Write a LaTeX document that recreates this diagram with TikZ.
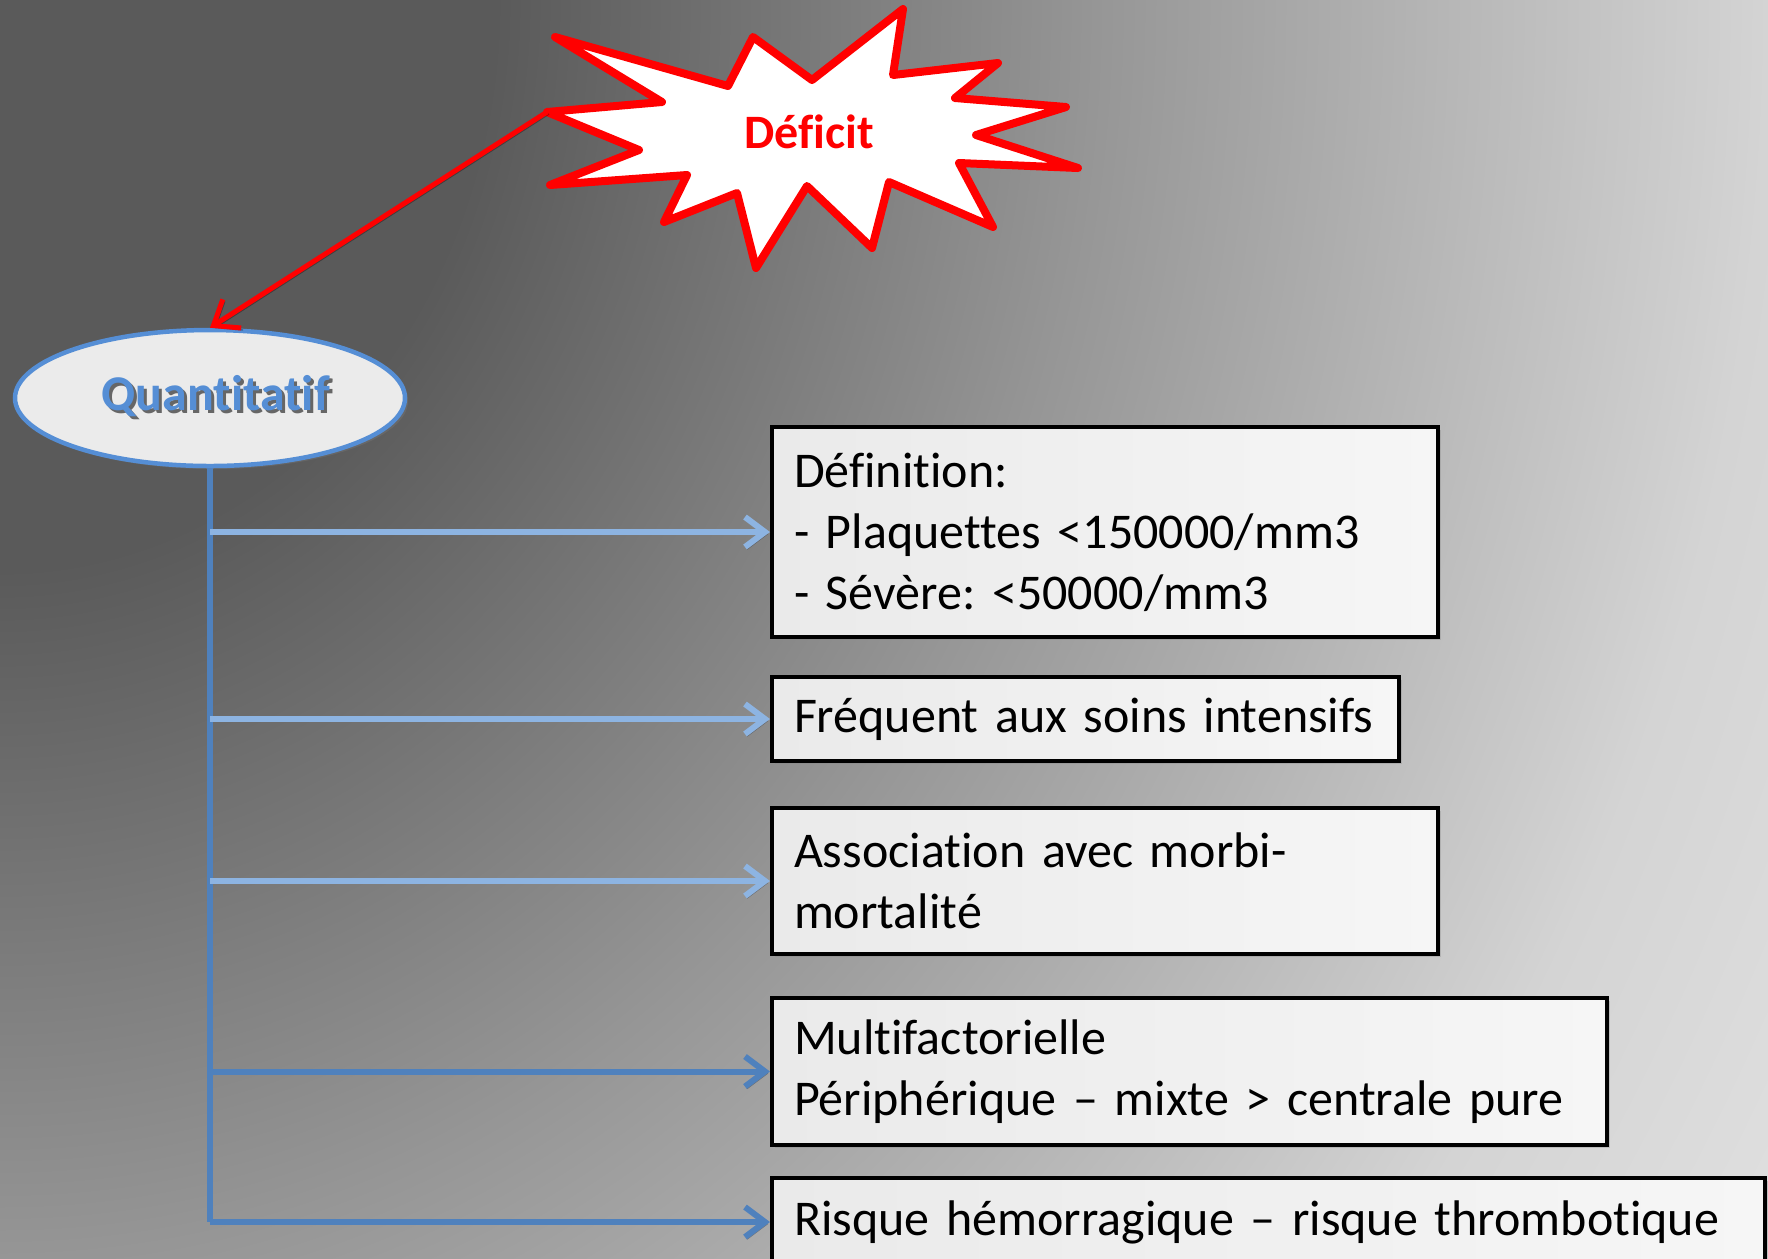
\documentclass[tikz,border=0pt]{standalone}
\usepackage{fontspec}
\setmainfont{Carlito}[Ligatures=NoCommon]
\usetikzlibrary{arrows.meta,shapes.geometric,shadows}

\definecolor{bgdark}{HTML}{5A5A5A}
\definecolor{bgmid}{HTML}{969696}
\definecolor{bglight}{HTML}{D4D4D4}
\definecolor{bgpale}{HTML}{E6E6E6}
\definecolor{trunkblue}{HTML}{4F81BD}
\definecolor{paleblue}{HTML}{8DB4E2}
\definecolor{ovalblue}{HTML}{558ED5}
\definecolor{ovalfill}{HTML}{EBEBEB}
\definecolor{boxleft}{HTML}{EAEAEA}
\definecolor{boxright}{HTML}{F6F6F6}

% dark corner at the top left, lighter towards the right
\pgfdeclareradialshading{slidebg}{\pgfpoint{0bp}{0bp}}{%
  color(0bp)=(bgdark); color(7bp)=(bgdark); color(15.5bp)=(bgmid);
  color(25bp)=(bglight); color(32bp)=(bgpale); color(50bp)=(bgpale)}

\newcommand{\boxfont}{\fontsize{14.23pt}{17.36pt}\selectfont\frenchspacing}
\newcommand{\starfont}{\fontsize{13.66pt}{16.6pt}\selectfont\bfseries}
\newcommand{\ovalfont}{\fontsize{14.23pt}{17.36pt}\selectfont\bfseries}
\newcommand{\shadowed}[2]
{
  \rlap{\kern0.03cm\raisebox{-0.03cm}{\color{black!60}#2}}{\color{#1}#2}%
}

\begin{document}
\begin{tikzpicture}[scale=1,
    infobox/.style={draw=black, line width=0.04cm, left color=boxleft, right color=boxright,
      anchor=west, align=left, font=\boxfont, inner xsep=0.22cm, inner ysep=0.05cm,
      drop shadow={shadow xshift=0.03cm, shadow yshift=-0.03cm, opacity=0.3}},
    lineshadow/.style={preaction={draw=black, opacity=0.3,
      transform canvas={xshift=0.02cm, yshift=-0.02cm}}},
    branch/.style={line width=0.06cm, lineshadow,
      -{Straight Barb[length=0.2cm, width=0.3cm]}}]
    \useasboundingbox (0,0) rectangle (17.68,-12.58);

    % background
    \begin{scope}
      \clip (0,0) rectangle (17.68,-12.58);
      \shade[shading=slidebg] (-17.68,20.3) rectangle (17.68,-20.3);
    \end{scope}

    % the burst
    \filldraw[draw=red, fill=white, line width=0.08cm, line join=round,
      drop shadow={shadow xshift=0.03cm, shadow yshift=-0.03cm, opacity=0.3}]
      (5.47,-1.12) coordinate (deftip) -- (6.62,-1.02) -- (5.55,-0.37) -- (7.28,-0.86)
      -- (7.53,-0.37) -- (8.12,-0.80) -- (9.03,-0.09) -- (8.93,-0.75) -- (9.98,-0.63)
      -- (9.55,-0.98) -- (10.66,-1.07) -- (9.76,-1.35) -- (10.78,-1.68) -- (9.59,-1.63)
      -- (9.93,-2.27) -- (8.89,-1.82) -- (8.72,-2.48) -- (8.07,-1.86) -- (7.56,-2.68)
      -- (7.37,-1.93) -- (6.64,-2.22) -- (6.87,-1.75) -- (5.50,-1.85) -- (6.39,-1.50) -- cycle;
    \node (deficit) at (8.09,-1.32) {\starfont\color{red}Déficit};

    \node[ellipse, draw=ovalblue, fill=ovalfill, line width=0.045cm,
      minimum width=3.9cm, minimum height=1.36cm,
      drop shadow={shadow xshift=0.03cm, shadow yshift=-0.03cm, opacity=0.3}]
      (quant) at (2.10,-3.98) {\ovalfont\shadowed{ovalblue}{Quantitatif}};

    \draw[red, line width=0.05cm, lineshadow, -{Straight Barb[length=0.22cm, width=0.34cm]}]
      (deftip) -- (quant.north);

    % boxes
    \node[infobox, text width=6.22cm, minimum height=2.10cm] (b1) at (7.70,-5.32)
      {Définition:\\- Plaquettes <150000/mm3\\- Sévère: <50000/mm3};
    \node[infobox, text width=5.83cm, minimum height=0.84cm] (b2) at (7.70,-7.19)
      {Fréquent aux soins intensifs};
    \node[infobox, text width=6.22cm, minimum height=1.46cm] (b3) at (7.70,-8.81)
      {Association avec morbi-\\mortalité};
    \node[infobox, text width=7.91cm, minimum height=1.47cm] (b4) at (7.70,-10.715)
      {Multifactorielle\\Périphérique – mixte > centrale pure};
    \node[infobox, text width=9.49cm, minimum height=0.88cm] (b5) at (7.70,-12.22)
      {Risque hémorragique – risque thrombotique};

    % trunk and branches
    \foreach \b in {1,...,5}
      \coordinate (j\b) at (quant.south |- b\b.west);
    \draw[trunkblue, line width=0.06cm, lineshadow] (quant.south) -- (j5);
    \draw[branch, paleblue] (j1) -- (b1.west);
    \draw[branch, paleblue] (j2) -- (b2.west);
    \draw[branch, paleblue] (j3) -- (b3.west);
    \draw[branch, trunkblue] (j4) -- (b4.west);
    \draw[branch, trunkblue] (j5) -- (b5.west);
\end{tikzpicture}
\end{document}
